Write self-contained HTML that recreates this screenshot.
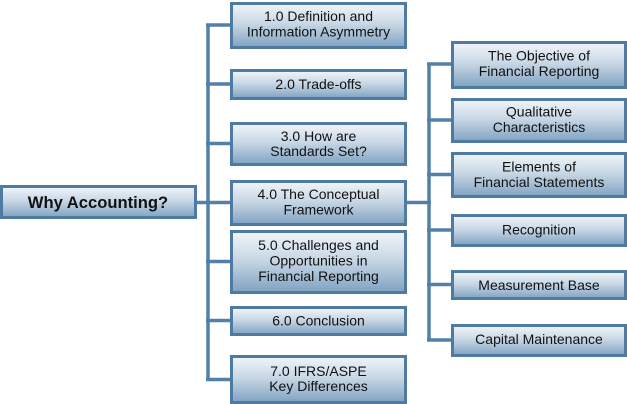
<!DOCTYPE html>
<html><head><meta charset="utf-8"><style>
html,body{margin:0;padding:0;background:#fff;}
svg{display:block;}
text{font-family:"Liberation Sans",Arial,sans-serif;font-size:14px;fill:#111;text-anchor:middle;}
.b{font-weight:bold;font-size:16.6px;}
</style></head><body>
<svg width="627" height="404" viewBox="0 0 627 404" xmlns="http://www.w3.org/2000/svg">
<defs>
<linearGradient id="g" x1="0" y1="0" x2="0" y2="1">
<stop offset="0" stop-color="#f1f5f9"/>
<stop offset="0.45" stop-color="#c9d8e6"/>
<stop offset="1" stop-color="#7fa2c1"/>
</linearGradient>
</defs>
<g stroke="#5380a7" stroke-width="3.5" fill="none">
<line x1="208" y1="25" x2="208" y2="379.5"/>
<line x1="197" y1="202.5" x2="231" y2="202.5"/>
<line x1="206" y1="25" x2="231" y2="25"/>
<line x1="206" y1="84" x2="231" y2="84"/>
<line x1="206" y1="143.5" x2="231" y2="143.5"/>
<line x1="206" y1="261.5" x2="231" y2="261.5"/>
<line x1="206" y1="320.5" x2="231" y2="320.5"/>
<line x1="206" y1="379.5" x2="231" y2="379.5"/>
<line x1="406" y1="202.5" x2="431" y2="202.5"/>
<line x1="429" y1="64" x2="429" y2="340"/>
<line x1="427" y1="64" x2="452" y2="64"/>
<line x1="427" y1="120" x2="452" y2="120"/>
<line x1="427" y1="174.5" x2="452" y2="174.5"/>
<line x1="427" y1="230" x2="452" y2="230"/>
<line x1="427" y1="284.5" x2="452" y2="284.5"/>
<line x1="427" y1="340" x2="452" y2="340"/>
</g>
<g fill="url(#g)" stroke="#4f7ba3" stroke-width="3">
<rect x="1.5" y="186.5" width="194" height="31"/>
<rect x="231.5" y="3.5" width="174" height="44"/>
<rect x="231.5" y="70.5" width="174" height="28"/>
<rect x="231.5" y="123.5" width="174" height="41"/>
<rect x="231.5" y="181.5" width="174" height="43"/>
<rect x="231.5" y="231.5" width="174" height="61"/>
<rect x="231.5" y="307.5" width="174" height="27"/>
<rect x="231.5" y="356.5" width="174" height="46"/>
<rect x="452.5" y="42.5" width="173" height="45"/>
<rect x="452.5" y="99.5" width="173" height="42"/>
<rect x="452.5" y="153.5" width="173" height="43"/>
<rect x="452.5" y="215.5" width="173" height="30"/>
<rect x="452.5" y="271.5" width="173" height="27"/>
<rect x="452.5" y="325.5" width="173" height="30"/>
</g>
<text class="b" x="98" y="208">Why Accounting?</text>
<text x="318.5" y="21">1.0 Definition and</text>
<text x="318.5" y="36.5">Information Asymmetry</text>
<text x="318.5" y="89">2.0 Trade-offs</text>
<text x="318.5" y="141">3.0 How are</text>
<text x="318.5" y="156">Standards Set?</text>
<text x="318.5" y="199">4.0 The Conceptual</text>
<text x="318.5" y="214.5">Framework</text>
<text x="318.5" y="250">5.0 Challenges and</text>
<text x="318.5" y="265.5">Opportunities in</text>
<text x="318.5" y="281">Financial Reporting</text>
<text x="318.5" y="325.5">6.0 Conclusion</text>
<text x="318.5" y="376">7.0 IFRS/ASPE</text>
<text x="318.5" y="391">Key Differences</text>
<text x="539" y="60.5">The Objective of</text>
<text x="539" y="76">Financial Reporting</text>
<text x="539" y="116.5">Qualitative</text>
<text x="539" y="132">Characteristics</text>
<text x="539" y="171.5">Elements of</text>
<text x="539" y="187">Financial Statements</text>
<text x="539" y="234.5">Recognition</text>
<text x="539" y="290">Measurement Base</text>
<text x="539" y="344">Capital Maintenance</text>
</svg>
</body></html>
